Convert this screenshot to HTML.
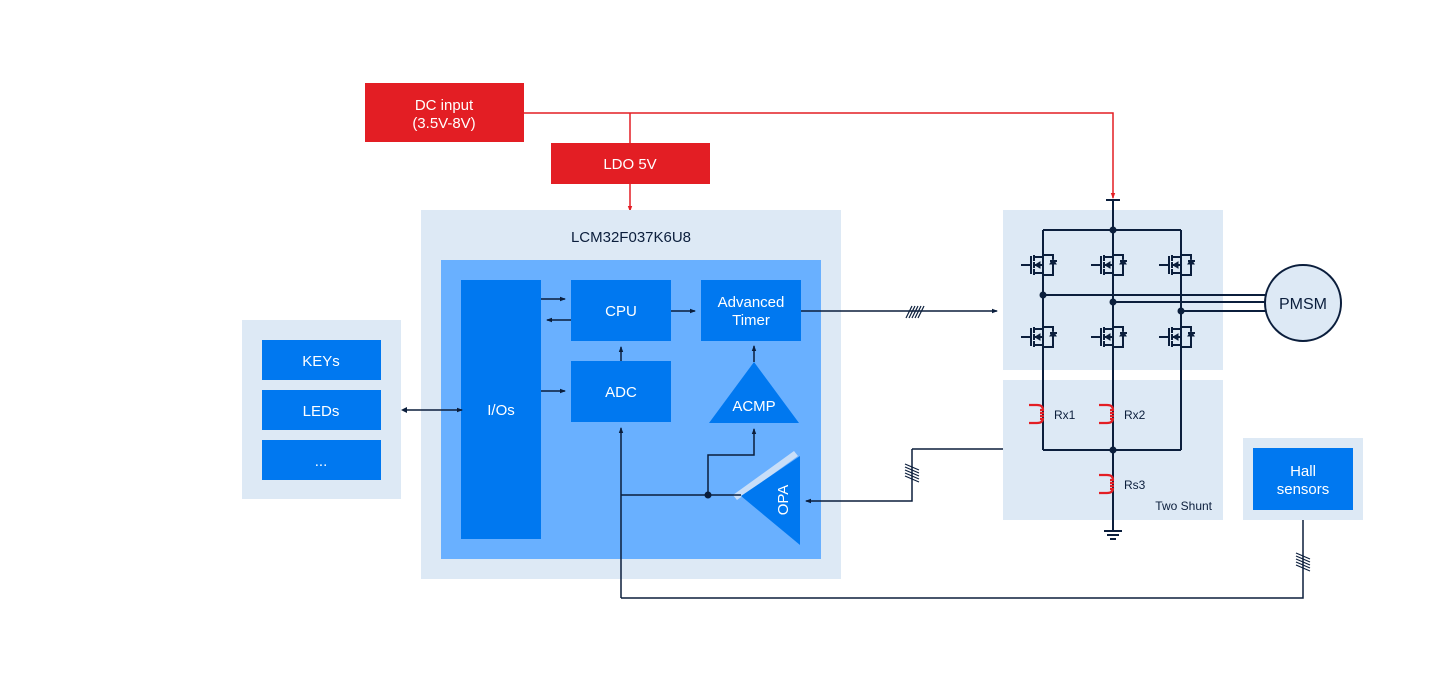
<!DOCTYPE html>
<html><head><meta charset="utf-8"><style>
body{margin:0;background:#fff}
svg{display:block;font-family:"Liberation Sans",sans-serif}
</style></head><body>
<svg width="1440" height="680" viewBox="0 0 1440 680">
<defs>
<marker id="a" markerWidth="6" markerHeight="6" refX="5" refY="3" orient="auto" markerUnits="userSpaceOnUse"><path d="M0,0.8 L6,3 L0,5.2z" fill="#0b1e3c"/></marker>
<marker id="r" markerWidth="6" markerHeight="6" refX="5" refY="3" orient="auto" markerUnits="userSpaceOnUse"><path d="M0,0.8 L6,3 L0,5.2z" fill="#e31e24"/></marker>
<g id="fet" stroke="#0b1e3c" stroke-width="2" fill="none">
<path d="M-22,0 H-12 M-12,-9 V9 M-9,-10 V-4 M-9,-3 V3 M-9,4 V10 M-9,-8 H0 M-9,8 H0 M-9,0 H0 V8 M0,-8 V-10 H10 V-6 M0,8 V10 H10 V-1 M7,-4 H14"/>
<path d="M10,-6 L7,-1 H13z" fill="#0b1e3c" stroke-width="1"/>
<path d="M-8,0 L-3,-3 V3z" fill="#0b1e3c" stroke-width="1"/>
</g>
<g id="res" stroke="#e31e24" stroke-width="2.2" fill="none">
<path d="M-14,-9 H-6 Q0,-9 0,-4 M-14,9 H-6 Q0,9 0,4 M-3,-4 H1 M-3,-1 H1 M-3,2 H1 M-3,5 H1"/>
</g>
</defs>
<!-- power -->
<rect x="365" y="83" width="159" height="59" fill="#e31e24"/>
<text x="444" y="110" fill="#fff" font-size="15" text-anchor="middle">DC input</text>
<text x="444" y="128" fill="#fff" font-size="15" text-anchor="middle">(3.5V-8V)</text>
<rect x="551" y="143" width="159" height="41" fill="#e31e24"/>
<text x="630" y="169" fill="#fff" font-size="15" text-anchor="middle">LDO 5V</text>
<path d="M524,113 H1113 V198" stroke="#e31e24" stroke-width="1.5" fill="none" marker-end="url(#r)"/>
<path d="M630,113 V143" stroke="#e31e24" stroke-width="1.5"/>
<path d="M630,184 V211" stroke="#e31e24" stroke-width="1.5" fill="none" marker-end="url(#r)"/>
<!-- MCU -->
<rect x="421" y="210" width="420" height="369" fill="#dde9f5"/>
<text x="631" y="242" fill="#0b1e3c" font-size="15" text-anchor="middle">LCM32F037K6U8</text>
<rect x="441" y="260" width="380" height="299" fill="#69b0ff"/>
<rect x="461" y="280" width="80" height="259" fill="#0078f0"/>
<text x="501" y="415" fill="#fff" font-size="15" text-anchor="middle">I/Os</text>
<rect x="571" y="280" width="100" height="61" fill="#0078f0"/>
<text x="621" y="316" fill="#fff" font-size="15" text-anchor="middle">CPU</text>
<rect x="571" y="361" width="100" height="61" fill="#0078f0"/>
<text x="621" y="397" fill="#fff" font-size="15" text-anchor="middle">ADC</text>
<rect x="701" y="280" width="100" height="61" fill="#0078f0"/>
<text x="751" y="307" fill="#fff" font-size="15" text-anchor="middle">Advanced</text>
<text x="751" y="325" fill="#fff" font-size="15" text-anchor="middle">Timer</text>
<path d="M754,362 L799,423 H709z" fill="#0078f0"/>
<text x="754" y="411" fill="#fff" font-size="15" text-anchor="middle">ACMP</text>
<path d="M733,495 L794,451 L798,456 L737,500z" fill="#c8def8"/>
<path d="M741,496 L800,456 V545z" fill="#0078f0"/>
<text fill="#fff" font-size="15" text-anchor="middle" transform="translate(788,500) rotate(-90)">OPA</text>
<g stroke="#0b1e3c" stroke-width="1.5" fill="none">
<path d="M541,299 H565" marker-end="url(#a)"/>
<path d="M571,320 H547" marker-end="url(#a)"/>
<path d="M541,391 H565" marker-end="url(#a)"/>
<path d="M671,311 H695" marker-end="url(#a)"/>
<path d="M621,361 V347" marker-end="url(#a)"/>
<path d="M754,362 V346" marker-end="url(#a)"/>
<path d="M621,598 V428" marker-end="url(#a)"/>
<path d="M621,495 H741"/>
<path d="M708,495 V455 H754 V429" marker-end="url(#a)"/>
<path d="M801,311 H997" marker-end="url(#a)"/>
<path d="M912,449 H1003 M912,449 V501 H806" marker-end="url(#a)"/>
<path d="M621,598 H1303 V520"/>
</g>
<circle cx="708" cy="495" r="3.5" fill="#0b1e3c"/>
<g stroke="#0b1e3c" stroke-width="1.2">
<path d="M906,318 L912,306 M909,318 L915,306 M912,318 L918,306 M915,318 L921,306 M918,318 L924,306"/>
<path d="M905,464 L919,470 M905,467 L919,473 M905,470 L919,476 M905,473 L919,479 M905,476 L919,482"/>
<path d="M1296,553 L1310,559 M1296,556 L1310,562 M1296,559 L1310,565 M1296,562 L1310,568 M1296,565 L1310,571"/>
</g>
<!-- left -->
<rect x="242" y="320" width="159" height="179" fill="#dde9f5"/>
<rect x="262" y="340" width="119" height="40" fill="#0078f0"/>
<text x="321" y="366" fill="#fff" font-size="15" text-anchor="middle">KEYs</text>
<rect x="262" y="390" width="119" height="40" fill="#0078f0"/>
<text x="321" y="416" fill="#fff" font-size="15" text-anchor="middle">LEDs</text>
<rect x="262" y="440" width="119" height="40" fill="#0078f0"/>
<text x="321" y="466" fill="#fff" font-size="15" text-anchor="middle">...</text>
<path d="M407,410 H462" stroke="#0b1e3c" stroke-width="1.5" marker-end="url(#a)" fill="none"/>
<path d="M401,410 l6,-3 v6z" fill="#0b1e3c"/>
<!-- bridge -->
<rect x="1003" y="210" width="220" height="160" fill="#dde9f5"/>
<rect x="1003" y="380" width="220" height="140" fill="#dde9f5"/>
<rect x="1243" y="438" width="120" height="82" fill="#dde9f5"/>
<rect x="1253" y="448" width="100" height="62" fill="#0078f0"/>
<text x="1303" y="476" fill="#fff" font-size="15" text-anchor="middle">Hall</text>
<text x="1303" y="494" fill="#fff" font-size="15" text-anchor="middle">sensors</text>
<g stroke="#0b1e3c" stroke-width="2" fill="none">
<path d="M1106,200 H1120 M1113,200 V230"/>
<path d="M1043,230 H1181 M1043,230 V450 M1113,230 V525 M1181,230 V450 M1043,450 H1181"/>
<path d="M1043,295 H1267 M1113,302 H1265 M1181,311 H1267"/>
<path d="M1104,531 H1122 M1107,535 H1119 M1110,539 H1116 M1113,525 V531"/>
</g>
<use href="#fet" x="1043" y="265"/><use href="#fet" x="1113" y="265"/><use href="#fet" x="1181" y="265"/>
<use href="#fet" x="1043" y="337"/><use href="#fet" x="1113" y="337"/><use href="#fet" x="1181" y="337"/>
<g fill="#0b1e3c"><circle cx="1113" cy="230" r="3.5"/><circle cx="1043" cy="295" r="3.5"/><circle cx="1113" cy="302" r="3.5"/><circle cx="1181" cy="311" r="3.5"/><circle cx="1113" cy="450" r="3.5"/></g>
<use href="#res" x="1043" y="414"/><use href="#res" x="1113" y="414"/><use href="#res" x="1113" y="484"/>
<text x="1054" y="419" font-size="12" fill="#0b1e3c">Rx1</text>
<text x="1124" y="419" font-size="12" fill="#0b1e3c">Rx2</text>
<text x="1124" y="489" font-size="12" fill="#0b1e3c">Rs3</text>
<text x="1212" y="510" font-size="12" fill="#0b1e3c" text-anchor="end">Two Shunt</text>
<circle cx="1303" cy="303" r="38" fill="#dde9f5" stroke="#0b1e3c" stroke-width="2"/>
<text x="1303" y="309" font-size="16" fill="#0b1e3c" text-anchor="middle">PMSM</text>
</svg>
</body></html>
